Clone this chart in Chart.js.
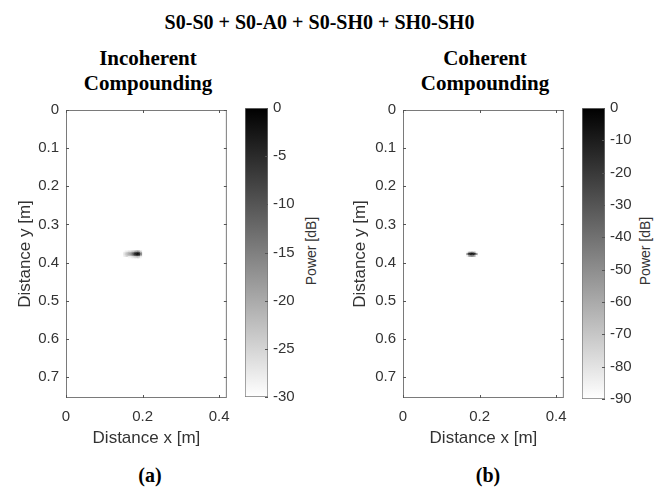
<!DOCTYPE html>
<html>
<head>
<meta charset="utf-8">
<script src="https://cdn.jsdelivr.net/npm/chart.js@4.4.0/dist/chart.umd.min.js"></script>
<style>
  body { margin: 0; background: #fff; width: 666px; height: 489px; position: relative; overflow: hidden; }
  canvas { position: absolute; }
  .t { position: absolute; font-family: "Liberation Serif", "Times New Roman", serif; font-weight: bold; color: #000; text-align: center; white-space: nowrap; }
  .lab { position: absolute; font-family: "Liberation Sans", Arial, sans-serif; font-size: 14px; color: #333; white-space: nowrap; transform: translate(-50%, -50%) rotate(-90deg); }
</style>
</head>
<body>
<div class="t" style="left:0;width:639px;top:10px;font-size:20px;line-height:24px">S0-S0 + S0-A0 + S0-SH0 + SH0-SH0</div>
<div class="t" style="left:48px;width:200px;top:46px;font-size:21px;line-height:25px">Incoherent<br>Compounding</div>
<div class="t" style="left:385px;width:200px;top:46px;font-size:21px;line-height:25px">Coherent<br>Compounding</div>
<div class="t" style="left:100px;width:100px;top:463px;font-size:20px;line-height:24px">(a)</div>
<div class="t" style="left:438px;width:100px;top:463px;font-size:20px;line-height:24px">(b)</div>
<div class="lab" style="left:311px;top:251px">Power [dB]</div>
<div class="lab" style="left:645px;top:251px">Power [dB]</div>

<canvas id="heatA" width="240" height="360" style="left:0;top:94px"></canvas>
<canvas id="heatB" width="240" height="360" style="left:337px;top:94px"></canvas>
<canvas id="cbA" width="70" height="320" style="left:245px;top:94px"></canvas>
<canvas id="cbB" width="70" height="320" style="left:582px;top:94px"></canvas>

<script>
// axes (m)
const xTicks = [0, 0.2, 0.4]
const yTicks = [0, 0.1, 0.2, 0.3, 0.4, 0.5, 0.6, 0.7]
const xMax = 0.42
const yMax = 0.755

// colorbar ticks (dB)
const cbTicksA = [0, -5, -10, -15, -20, -25, -30]
const cbTicksB = [0, -10, -20, -30, -40, -50, -60, -70, -80, -90]

// tache (a) - incoherent, puissance en dB
const blobAx = [0.152, 0.156, 0.160, 0.164, 0.168, 0.172, 0.176, 0.180, 0.184, 0.188, 0.192, 0.196]
const blobAy = [0.370, 0.374, 0.378, 0.382, 0.386]
const blobA = [
  [-30, -29, -29, -28, -28, -27, -26, -25, -23, -22, -24, -28],
  [-28, -26, -24, -22, -21, -19, -15, -11, -8, -7, -10, -20],
  [-27, -24, -22, -20, -18, -15, -9, -4, -1, 0, -3, -15],
  [-28, -26, -24, -23, -22, -20, -16, -12, -9, -8, -11, -21],
  [-30, -30, -30, -29, -29, -28, -27, -26, -25, -24, -26, -29]
]

// tache (b) - coherent
const blobBx = [0.168, 0.172, 0.176, 0.180, 0.184, 0.188, 0.192]
const blobBy = [0.374, 0.378, 0.382]
const blobB = [
  [-85, -60, -45, -40, -44, -58, -86],
  [-45, -10, -2, 0, -2, -8, -42],
  [-86, -62, -48, -44, -48, -60, -88]
]

const tickFont = { family: '"Liberation Sans", Arial, sans-serif', size: 15 }
const labelFont = { family: '"Liberation Sans", Arial, sans-serif', size: 17 }
const txtColor = '#333'

// gris inverse : 0 dB noir, min blanc
function gray(v, min) {
  const l = Math.round(255 * Math.min(1, Math.max(0, v / min)))
  return `rgb(${l},${l},${l})`
}

function cells(xs, ys, vals, min) {
  const pts = []
  ys.forEach((y, i) => xs.forEach((x, j) => {
    if (vals[i][j] > min) pts.push({ x: x, y: y, v: vals[i][j] })
  }))
  return pts
}

// cadre + petits ticks vers l'interieur (style matlab)
function makeBox(xT, yT, frame, leftSide) {
  return {
    id: 'box',
    afterDatasetsDraw(chart) {
      const { ctx, chartArea: a, scales } = chart
      ctx.save()
      ctx.lineWidth = 1
      if (frame) {
        ctx.strokeStyle = '#7a7a7a'
        ctx.strokeRect(a.left + 0.5, a.top + 0.5, a.right - a.left - 1, a.bottom - a.top - 1)
      }
      ctx.strokeStyle = '#555'
      ctx.beginPath()
      xT.forEach(v => {
        const px = Math.round(scales.x.getPixelForValue(v)) + 0.5
        ctx.moveTo(px, a.bottom); ctx.lineTo(px, a.bottom - 3)
        ctx.moveTo(px, a.top); ctx.lineTo(px, a.top + 3)
      })
      yT.forEach(v => {
        const py = Math.round(scales.y.getPixelForValue(v)) + 0.5
        if (leftSide) { ctx.moveTo(a.left, py); ctx.lineTo(a.left + 3, py) }
        ctx.moveTo(a.right, py); ctx.lineTo(a.right - 3, py)
      })
      ctx.stroke()
      ctx.restore()
    }
  }
}

function heatmap(id, xs, ys, vals, min, titlePad) {
  const step = xs[1] - xs[0]
  const radius = ctx => {
    const sx = ctx.chart.scales.x
    const w = Math.abs(sx.getPixelForValue(step) - sx.getPixelForValue(0))
    return (w + 0.5) / (2 * Math.SQRT1_2)
  }
  new Chart(document.getElementById(id), {
    type: 'scatter',
    data: {
      datasets: [{
        data: cells(xs, ys, vals, min),
        pointStyle: 'rect',
        pointRadius: radius,
        pointHoverRadius: radius,
        pointBorderWidth: 0,
        pointBackgroundColor: ctx => ctx.raw ? gray(ctx.raw.v, min) : '#fff'
      }]
    },
    options: {
      responsive: false,
      animation: false,
      events: [],
      layout: { padding: { top: 10, right: 8, left: 0, bottom: 0 } },
      plugins: { legend: { display: false }, tooltip: { enabled: false } },
      scales: {
        x: {
          type: 'linear', min: 0, max: xMax,
          afterBuildTicks: s => { s.ticks = xTicks.map(v => ({ value: v })) },
          afterFit: s => { s.height = 56 },
          grid: { display: false, drawTicks: false }, border: { display: false },
          ticks: { padding: 10, color: txtColor, font: tickFont, autoSkip: false, maxRotation: 0, callback: v => String(v) },
          title: { display: true, text: 'Distance x [m]', color: txtColor, font: labelFont, padding: { top: 0, bottom: 5 } }
        },
        y: {
          type: 'linear', reverse: true, min: 0, max: yMax,
          afterBuildTicks: s => { s.ticks = yTicks.map(v => ({ value: v })) },
          afterFit: s => { s.width = 66 },
          grid: { display: false, drawTicks: false }, border: { display: false },
          ticks: { padding: 7, color: txtColor, font: tickFont, autoSkip: false, callback: v => String(v) },
          title: { display: true, text: 'Distance y [m]', color: txtColor, font: labelFont, padding: { top: titlePad, bottom: 0 } }
        }
      }
    },
    plugins: [makeBox(xTicks, yTicks, true, true)]
  })
}

function colorbar(id, ticks, bottomPad) {
  const min = ticks[ticks.length - 1]
  new Chart(document.getElementById(id), {
    type: 'bar',
    data: {
      labels: [''],
      datasets: [{
        data: [[min, 0]],
        backgroundColor: ctx => {
          const ch = ctx.chart
          if (!ch.chartArea) return '#888'
          const y = ch.scales.y
          const g = ch.ctx.createLinearGradient(0, y.getPixelForValue(min), 0, y.getPixelForValue(0))
          g.addColorStop(0, gray(min, min))
          g.addColorStop(1, gray(0, min))
          return g
        },
        borderColor: '#7a7a7a',
        borderWidth: 1,
        borderSkipped: false,
        categoryPercentage: 1,
        barPercentage: 1
      }]
    },
    options: {
      responsive: false,
      animation: false,
      events: [],
      layout: { padding: { top: 10, bottom: bottomPad, left: 0, right: 0 } },
      plugins: { legend: { display: false }, tooltip: { enabled: false } },
      scales: {
        x: { display: false },
        y: {
          position: 'right', min: min, max: 0,
          afterBuildTicks: s => { s.ticks = ticks.map(v => ({ value: v })) },
          afterFit: s => { s.width = 47 },
          grid: { display: false, drawTicks: false }, border: { display: false },
          ticks: { padding: 5, color: txtColor, font: tickFont, autoSkip: false, callback: v => String(v) }
        }
      }
    },
    plugins: [makeBox([], ticks, false, false)]
  })
}

heatmap('heatA', blobAx, blobAy, blobA, cbTicksA[cbTicksA.length - 1], 15)
heatmap('heatB', blobBx, blobBy, blobB, cbTicksB[cbTicksB.length - 1], 13)
colorbar('cbA', cbTicksA, 17)
colorbar('cbB', cbTicksB, 15)
</script>
</body>
</html>
